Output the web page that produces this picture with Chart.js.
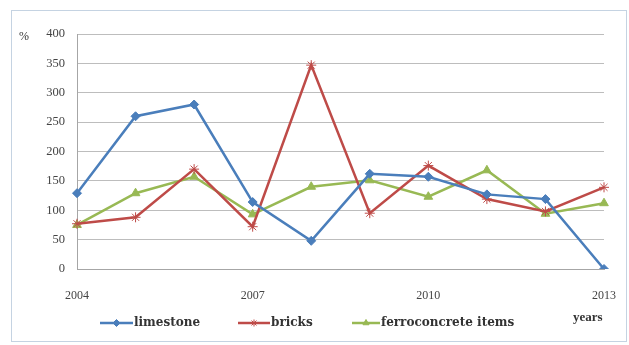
<!DOCTYPE html>
<html>
  <head>
    <meta charset="utf-8">
    <style>
      body { margin: 0; background: #fff; }
      #holder { width: 629px; height: 345px; }
    </style>
  </head>
  <body>
    <div id="holder">
      <canvas id="chart-area" width="629" height="345"></canvas>
    </div>

    <script src="https://cdn.jsdelivr.net/npm/chart.js@4/dist/chart.umd.min.js"></script>
    <script>
        // years on the x axis, every third one gets a label
        var years = ['2004', '2005', '2006', '2007', '2008', '2009', '2010', '2011', '2012', '2013'];
        var yTicks = [0, 50, 100, 150, 200, 250, 300, 350, 400];

        // index values, %
        var limestone = [129, 260, 280, 114, 48, 162, 157, 127, 119, 0];
        var bricks = [77, 88, 170, 72, 347, 95, 176, 119, 98, 139];
        var ferroconcrete = [75, 129, 157, 93, 140, 151, 123, 168, 94, 112];

        var serif = '"Liberation Serif", "DejaVu Serif", serif';
        var legendFont = 'bold 12px "DejaVu Serif", serif';

        // frame, "%" and "years" captions, and the legend with line + marker
        var decor = {
            id: 'decor',
            beforeDraw: function(chart) {
                var ctx = chart.ctx;
                ctx.save();
                ctx.fillStyle = '#fff';
                ctx.fillRect(0, 0, chart.width, chart.height);
                ctx.strokeStyle = '#c5d3e2';
                ctx.lineWidth = 1;
                ctx.strokeRect(11.5, 10.5, 615, 331);
                ctx.restore();
            },
            afterDraw: function(chart) {
                var ctx = chart.ctx;
                ctx.save();
                ctx.fillStyle = '#333';
                ctx.textBaseline = 'middle';
                ctx.font = '12px ' + serif;
                ctx.textAlign = 'left';
                ctx.fillText('%', 19, 37);
                ctx.font = 'bold 13px ' + serif;
                ctx.fillText('years', 573, 318);

                var items = [
                    { x: 100, w: 33, text: 'limestone' },
                    { x: 238, w: 32, text: 'bricks' },
                    { x: 352, w: 28, text: 'ferroconcrete items' }
                ];
                chart.data.datasets.forEach(function(ds, i) {
                    var it = items[i];
                    var y = 323;
                    ctx.strokeStyle = ds.borderColor;
                    ctx.lineWidth = 2.5;
                    ctx.beginPath();
                    ctx.moveTo(it.x, y);
                    ctx.lineTo(it.x + it.w, y);
                    ctx.stroke();
                    ctx.fillStyle = ds.borderColor;
                    ctx.lineWidth = 1;
                    Chart.helpers.drawPoint(ctx, {
                        pointStyle: ds.pointStyle,
                        radius: 3.5,
                        rotation: 0,
                        borderWidth: 1
                    }, it.x + it.w / 2, y);
                    ctx.fillStyle = '#333';
                    ctx.font = legendFont;
                    ctx.fillText(it.text, it.x + it.w + 1, y);
                });
                ctx.restore();
            }
        };

        var ctx = document.getElementById('chart-area').getContext('2d');
        var chart = new Chart(ctx, {
            type: 'line',
            data: {
                labels: years,
                datasets: [{
                    label: 'limestone',
                    data: limestone,
                    borderColor: '#4a7ebb',
                    backgroundColor: '#4a7ebb',
                    borderWidth: 2.5,
                    pointStyle: 'rectRot',
                    pointRadius: 4.5,
                    pointBorderWidth: 1
                }, {
                    label: 'bricks',
                    data: bricks,
                    borderColor: '#be4b48',
                    backgroundColor: '#be4b48',
                    borderWidth: 2.5,
                    pointStyle: 'star',
                    pointRadius: 5,
                    pointBorderWidth: 1
                }, {
                    label: 'ferroconcrete items',
                    data: ferroconcrete,
                    borderColor: '#98b954',
                    backgroundColor: '#98b954',
                    borderWidth: 2.5,
                    pointStyle: 'triangle',
                    pointRadius: 5,
                    pointBorderWidth: 1
                }]
            },
            options: {
                responsive: false,
                animation: false,
                events: [],
                layout: { padding: { top: 34, right: 25, left: 0, bottom: 0 } },
                elements: { line: { tension: 0 } },
                plugins: {
                    legend: { display: false },
                    tooltip: { enabled: false }
                },
                scales: {
                    x: {
                        // grid hidden, tickLength only pushes the year labels down
                        grid: { display: false, drawTicks: true, tickLength: 16 },
                        border: { color: '#a6a6a6' },
                        ticks: {
                            autoSkip: false,
                            maxRotation: 0,
                            padding: 4,
                            color: '#444',
                            font: { family: serif, size: 12 },
                            callback: function(v, i) { return i % 3 === 0 ? years[i] : ''; }
                        },
                        afterFit: function(scale) { scale.height = 76; }
                    },
                    y: {
                        min: 0,
                        max: 400,
                        afterBuildTicks: function(scale) {
                            scale.ticks = yTicks.map(function(v) { return { value: v }; });
                        },
                        grid: { color: '#bdbdbd', drawTicks: false },
                        border: { color: '#a6a6a6' },
                        ticks: {
                            padding: 12,
                            color: '#444',
                            font: { family: serif, size: 12.5 }
                        },
                        afterFit: function(scale) { scale.width = 77; }
                    }
                }
            },
            plugins: [decor]
        });
    </script>
  </body>
</html>
